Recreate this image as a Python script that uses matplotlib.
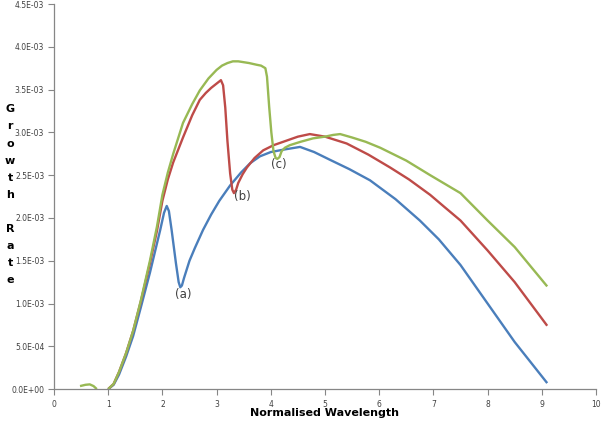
import matplotlib
matplotlib.use("Agg")
import matplotlib.pyplot as plt
import numpy as np
from matplotlib.ticker import FuncFormatter, FixedLocator

# values (growth rate in units of 1e-3)
blue_x = [1.0, 1.1, 1.2, 1.33, 1.46, 1.6, 1.77, 1.88, 1.96, 2.03, 2.08, 2.12,
          2.17, 2.25, 2.30, 2.33, 2.36, 2.40, 2.5, 2.6, 2.75, 2.9, 3.05, 3.25,
          3.45, 3.62, 3.8, 4.0, 4.25, 4.54, 4.8, 5.09, 5.45, 5.83, 6.3, 6.75,
          7.1, 7.5, 8.0, 8.5, 9.1]
blue_y = [0.0, 0.05, 0.17, 0.38, 0.62, 0.95, 1.36, 1.65, 1.86, 2.06, 2.14, 2.08,
          1.86, 1.47, 1.25, 1.19, 1.21, 1.30, 1.50, 1.65, 1.86, 2.04, 2.20, 2.38,
          2.53, 2.64, 2.72, 2.77, 2.80, 2.83, 2.77, 2.68, 2.57, 2.44, 2.22, 1.97,
          1.75, 1.45, 1.0, 0.55, 0.07]

red_x = [1.0, 1.1, 1.2, 1.33, 1.46, 1.6, 1.77, 1.9, 2.0, 2.1, 2.2, 2.38, 2.55,
         2.69, 2.8, 2.9, 3.0, 3.08, 3.12, 3.16, 3.2, 3.25, 3.29, 3.32, 3.36,
         3.40, 3.48, 3.56, 3.7, 3.86, 4.05, 4.23, 4.5, 4.72, 5.0, 5.40, 5.8,
         6.2, 6.55, 6.94, 7.2, 7.5, 8.0, 8.5, 9.1]
red_y = [0.0, 0.06, 0.2, 0.42, 0.68, 1.02, 1.47, 1.85, 2.2, 2.45, 2.65, 2.94, 3.2,
         3.38, 3.46, 3.52, 3.57, 3.61, 3.55, 3.29, 2.9, 2.52, 2.33, 2.29, 2.33,
         2.41, 2.51, 2.59, 2.70, 2.79, 2.85, 2.89, 2.95, 2.98, 2.95, 2.87, 2.74,
         2.59, 2.45, 2.27, 2.13, 1.97, 1.62, 1.25, 0.74]

green_x = [0.48, 0.58, 0.66, 0.73, 0.79, np.nan,
           1.0, 1.1, 1.2, 1.33, 1.46, 1.6, 1.77, 1.9, 2.0, 2.1, 2.2, 2.38, 2.55,
           2.69, 2.85, 3.0, 3.1, 3.2, 3.3, 3.40, 3.5, 3.6, 3.74, 3.82, 3.90,
           3.93, 3.97, 4.01, 4.05, 4.09, 4.12, 4.16, 4.20, 4.26, 4.35, 4.55,
           4.78, 5.0, 5.15, 5.28, 5.5, 5.75, 6.02, 6.5, 6.94, 7.5, 8.0, 8.5, 9.1]
green_y = [0.035, 0.05, 0.055, 0.035, 0.0, np.nan,
           0.0, 0.06, 0.2, 0.42, 0.68, 1.03, 1.5, 1.9, 2.27, 2.53, 2.75, 3.11, 3.33,
           3.49, 3.63, 3.73, 3.78, 3.81, 3.83, 3.83, 3.82, 3.81, 3.79, 3.78, 3.75,
           3.65, 3.3, 3.0, 2.78, 2.70, 2.69, 2.71, 2.78, 2.82, 2.85, 2.89,
           2.93, 2.95, 2.97, 2.98, 2.94, 2.89, 2.82, 2.67, 2.50, 2.29, 1.97, 1.66, 1.20]

labels = ["(a)", "(b)", "(c)"]
label_x = [2.38, 3.47, 4.15]
label_y = [1.11, 2.25, 2.63]

x_ticks = list(range(0, 11))
y_ticks = [i * 0.5e-3 for i in range(10)]

fig = plt.figure(figsize=(6.02, 4.22), dpi=100)
ax = fig.add_axes([0.0897, 0.078, 0.9003, 0.9125])

scale = 1e-3
for xs, ys, col in [(blue_x, blue_y, "#4A7EBB"),
                    (red_x, red_y, "#BE4B48"),
                    (green_x, green_y, "#98B954")]:
    ax.plot(xs, np.array(ys) * scale, color=col, linewidth=1.7,
            solid_capstyle="butt", solid_joinstyle="round")

for t, x, y in zip(labels, label_x, label_y):
    ax.text(x, y * scale, t, fontsize=8.5, color="#404040", ha="center", va="center")

ax.set_xlim(0, 10)
ax.set_ylim(0, 4.5e-3)
ax.xaxis.set_major_locator(FixedLocator(x_ticks))
ax.yaxis.set_major_locator(FixedLocator(y_ticks))
ax.yaxis.set_major_formatter(FuncFormatter(lambda v, p: f"{v:.1E}"))

for s in ["top", "right"]:
    ax.spines[s].set_visible(False)
for s in ["left", "bottom"]:
    ax.spines[s].set_color("#868686")
    ax.spines[s].set_linewidth(0.9)
ax.tick_params(axis="both", direction="out", length=4, width=0.8,
               color="#868686", labelsize=5.5, labelcolor="#404040")
ax.tick_params(axis="y", pad=3)
ax.tick_params(axis="x", pad=4)

ax.text(0.5, -0.0623, "Normalised Wavelength", transform=ax.transAxes,
        fontsize=8, fontweight="bold", ha="center", va="center")
ax.text(-0.081, 0.505, "G\nr\no\nw\nt\nh\n\nR\na\nt\ne", transform=ax.transAxes,
        fontsize=8, fontweight="bold", ha="center", va="center", linespacing=1.88)

fig.savefig("out.png", dpi=100)
